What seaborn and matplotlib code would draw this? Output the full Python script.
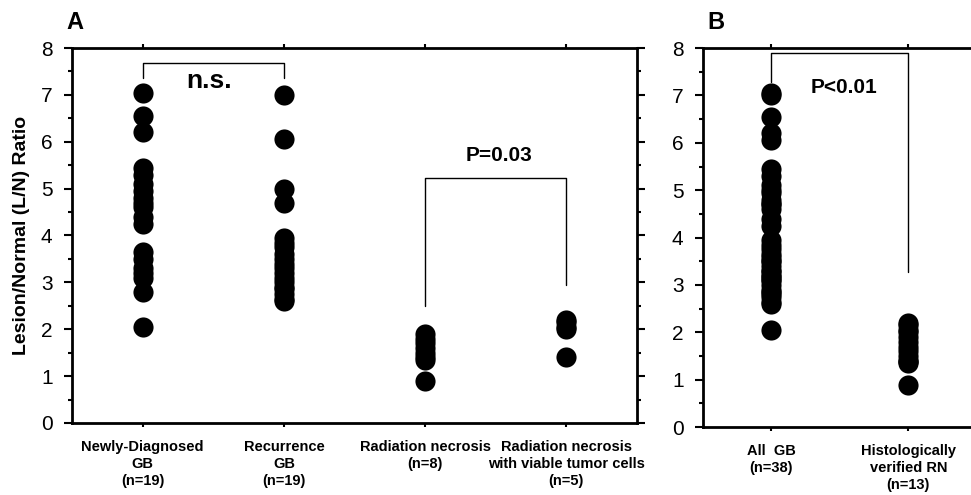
import pandas as pd
import seaborn as sns
import matplotlib.pyplot as plt
from matplotlib.ticker import MultipleLocator

# L/N ratios
newly_gb = [7.05, 6.55, 6.2, 5.45, 5.3, 5.1, 4.95, 4.8, 4.7, 4.6, 4.4, 4.25,
            3.65, 3.5, 3.3, 3.2, 3.1, 2.8, 2.05]
recurrence_gb = [7.0, 6.05, 5.0, 4.7, 3.95, 3.85, 3.75, 3.6, 3.5, 3.4, 3.3,
                 3.2, 3.1, 3.0, 2.9, 2.85, 2.75, 2.65, 2.6]
rad_necrosis = [1.9, 1.8, 1.7, 1.6, 1.5, 1.4, 1.35, 0.9]
rad_necrosis_viable = [2.2, 2.15, 2.05, 2.0, 1.4]

labels_a = ['Newly-Diagnosed\nGB\n(n=19)', 'Recurrence\nGB\n(n=19)',
            'Radiation necrosis\n(n=8)',
            'Radiation necrosis\nwith viable tumor cells\n(n=5)']
labels_b = ['All  GB\n(n=38)', 'Histologically\nverified RN\n(n=13)']

groups_a = [newly_gb, recurrence_gb, rad_necrosis, rad_necrosis_viable]
groups_b = [newly_gb + recurrence_gb, rad_necrosis + rad_necrosis_viable]

df_a = pd.DataFrame([(lab, v) for lab, g in zip(labels_a, groups_a) for v in g],
                    columns=['group', 'ratio'])
df_b = pd.DataFrame([(lab, v) for lab, g in zip(labels_b, groups_b) for v in g],
                    columns=['group', 'ratio'])

sns.set_style('ticks')
plt.rcParams['font.family'] = ['Liberation Sans', 'DejaVu Sans']
plt.rcParams['text.color'] = 'black'
plt.rcParams['axes.labelcolor'] = 'black'
plt.rcParams['xtick.color'] = 'black'
plt.rcParams['ytick.color'] = 'black'
plt.rcParams['axes.edgecolor'] = 'black'

fig = plt.figure(figsize=(9.71, 4.95), dpi=100)
ax_a = fig.add_axes([0.0742, 0.1455, 0.5818, 0.7575])
ax_b = fig.add_axes([0.724, 0.137, 0.282, 0.766])

sns.stripplot(data=df_a, x='group', y='ratio', order=labels_a, jitter=False,
              color='black', size=14.5, ax=ax_a)
sns.stripplot(data=df_b, x='group', y='ratio', order=labels_b, jitter=False,
              color='black', size=14.5, ax=ax_b)

for ax, n in [(ax_a, 4), (ax_b, 2)]:
    ax.set_xlim(-0.5, n - 0.5)
    ax.set_ylim(0, 8)
    ax.set_xlabel('')
    ax.set_ylabel('')
    ax.yaxis.set_major_locator(MultipleLocator(1))
    ax.yaxis.set_minor_locator(MultipleLocator(0.5))
    ax.tick_params(axis='y', which='major', direction='out', length=6, width=1.5,
                   labelsize=15, pad=8)
    ax.tick_params(axis='y', which='minor', direction='out', length=3, width=1.5)
    ax.tick_params(axis='x', direction='out', length=3, width=1.5, top=True, pad=9)
    for lab in ax.get_xticklabels():
        lab.set_fontweight('bold')
        lab.set_fontsize(10.5)
        lab.set_linespacing(1.3)
    for s in ax.spines.values():
        s.set_linewidth(2)

ax_a.tick_params(axis='y', which='both', right=True)
ax_b.spines['right'].set_visible(False)

ax_a.set_ylabel('Lesion/Normal (L/N) Ratio', fontsize=14, fontweight='bold', labelpad=8)

# significance brackets
ax_a.plot([0, 0, 1, 1], [7.36, 7.68, 7.68, 7.36], color='black', lw=1)
ax_a.text(0.47, 7.3, 'n.s.', ha='center', va='center', fontsize=19, fontweight='bold')
ax_a.plot([2, 2, 3, 3], [2.5, 5.22, 5.22, 2.94], color='black', lw=1)
ax_a.text(2.52, 5.7, 'P=0.03', ha='center', va='center', fontsize=15, fontweight='bold')
ax_b.plot([0, 0, 1, 1], [7.28, 7.89, 7.89, 3.27], color='black', lw=1)
ax_b.text(0.53, 7.17, 'P<0.01', ha='center', va='center', fontsize=15, fontweight='bold')

fig.text(0.068, 0.955, 'A', fontsize=17, fontweight='bold', va='center')
fig.text(0.728, 0.955, 'B', fontsize=17, fontweight='bold', va='center')

plt.savefig('out.png', dpi=100)
